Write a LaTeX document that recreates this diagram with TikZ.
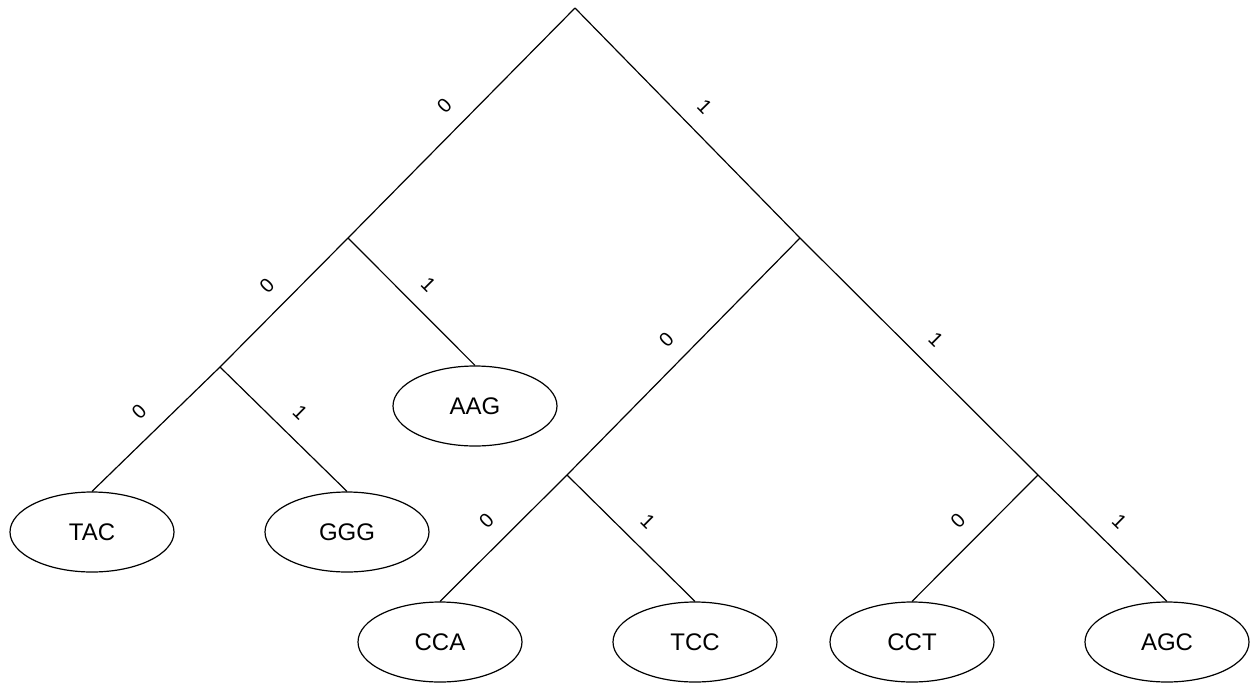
\documentclass[tikz,border=0pt]{standalone}
\usepackage{fontspec}
\setmainfont{Liberation Sans}
\usetikzlibrary{shapes.geometric}
\begin{document}
\begin{tikzpicture}[x=1pt,y=-1pt,line width=1.2pt,
  leaf/.style={draw,ellipse,minimum width=164pt,minimum height=80pt,inner sep=0pt,
    font=\fontsize{24}{28}\selectfont},
  bit/.style={midway,sloped,above=16.5pt,inner sep=0pt,font=\fontsize{20}{22}\selectfont}]
\useasboundingbox (0,0) rectangle (1251,686);
% internal branching points
\coordinate (root) at (575,8);
\coordinate (l) at (348,238);
\coordinate (r) at (800,238);
\coordinate (ll) at (220,367);
\coordinate (rl) at (567,475);
\coordinate (rr) at (1038,475);
% leaves
\node[leaf] (aag) at (475,406) {AAG};
\node[leaf] (tac) at (92,532) {TAC};
\node[leaf] (ggg) at (347,532) {GGG};
\node[leaf] (cca) at (440,642) {CCA};
\node[leaf] (tcc) at (695,642) {TCC};
\node[leaf] (cct) at (912,642) {CCT};
\node[leaf] (agc) at (1167,642) {AGC};
% branches with their bit labels
\draw (root) -- node[bit]{0} (l);
\draw (root) -- node[bit]{1} (r);
\draw (l) -- node[bit]{0} (ll);
\draw (l) -- node[bit]{1} (aag.north);
\draw (ll) -- node[bit]{0} (tac.north);
\draw (ll) -- node[bit]{1} (ggg.north);
\draw (r) -- node[bit]{0} (rl);
\draw (r) -- node[bit]{1} (rr);
\draw (rl) -- node[bit]{0} (cca.north);
\draw (rl) -- node[bit]{1} (tcc.north);
\draw (rr) -- node[bit]{0} (cct.north);
\draw (rr) -- node[bit]{1} (agc.north);
\end{tikzpicture}
\end{document}
